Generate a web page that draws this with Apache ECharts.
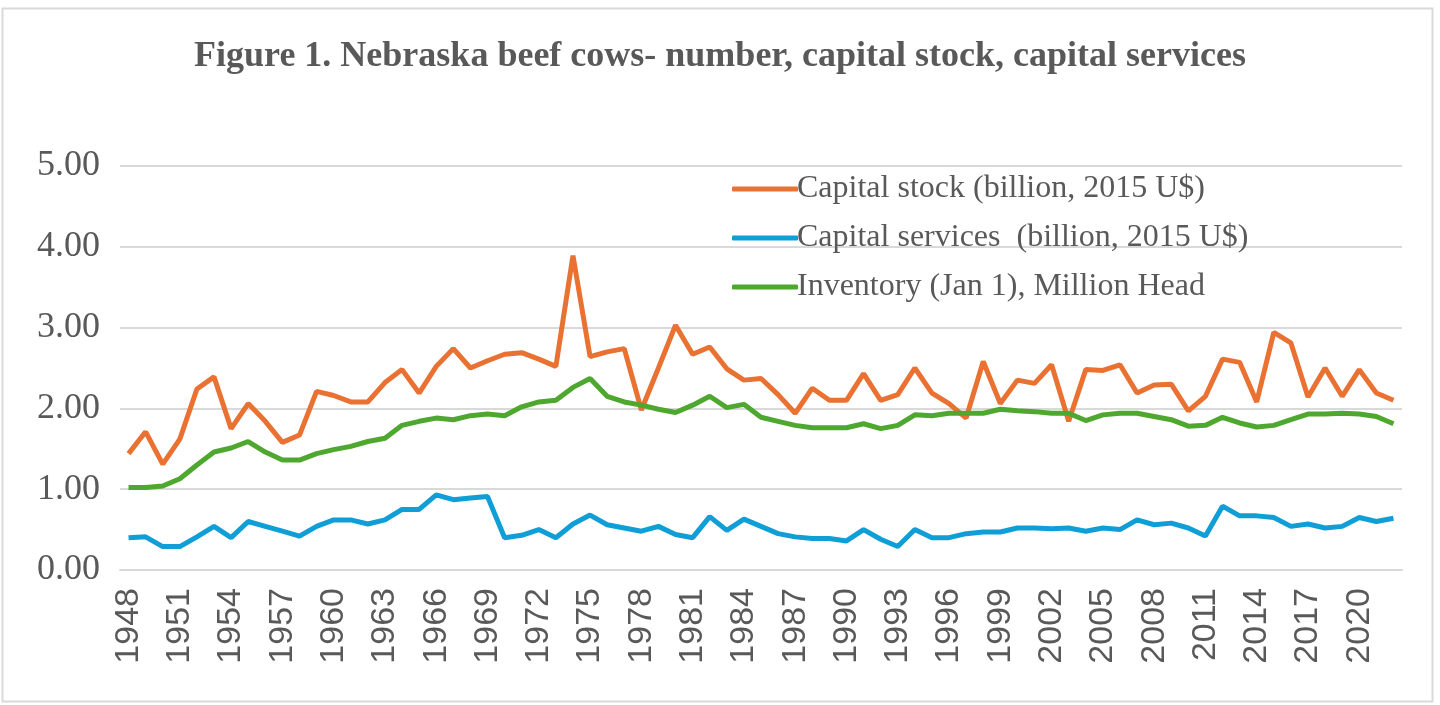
<!DOCTYPE html>
<html>
<head>
<meta charset="utf-8">
<script src="https://cdn.jsdelivr.net/npm/echarts@6/dist/echarts.min.js"></script>
<style>
  html, body { margin: 0; padding: 0; background: #fff; }
  #main { width: 1440px; height: 705px; }
</style>
</head>
<body>
<div id="main"></div>
<script>
// years 1948 - 2022
var years = []
for (var y = 1948; y <= 2022; y++) years.push(String(y))

var capitalStock = [
  1.44, 1.71, 1.31, 1.62, 2.24, 2.39, 1.75, 2.06, 1.84, 1.58,
  1.67, 2.21, 2.16, 2.08, 2.08, 2.32, 2.48, 2.19, 2.52, 2.74,
  2.50, 2.59, 2.67, 2.69, 2.61, 2.52, 3.89, 2.64, 2.70, 2.74,
  1.98, 2.50, 3.03, 2.67, 2.76, 2.49, 2.35, 2.37, 2.17, 1.94,
  2.25, 2.10, 2.10, 2.43, 2.10, 2.17, 2.50, 2.19, 2.06, 1.88,
  2.58, 2.06, 2.35, 2.31, 2.54, 1.84, 2.48, 2.47, 2.54, 2.19,
  2.29, 2.30, 1.97, 2.15, 2.61, 2.57, 2.08, 2.94, 2.81, 2.14,
  2.50, 2.15, 2.48, 2.19, 2.10
]
var capitalServices = [
  0.40, 0.41, 0.29, 0.29, 0.41, 0.54, 0.40, 0.60, 0.54, 0.48,
  0.42, 0.54, 0.62, 0.62, 0.57, 0.62, 0.75, 0.75, 0.93, 0.87,
  0.89, 0.91, 0.40, 0.43, 0.50, 0.40, 0.57, 0.68, 0.56, 0.52,
  0.48, 0.54, 0.44, 0.40, 0.66, 0.49, 0.63, 0.54, 0.45, 0.41,
  0.39, 0.39, 0.36, 0.50, 0.38, 0.29, 0.50, 0.40, 0.40, 0.45,
  0.47, 0.47, 0.52, 0.52, 0.51, 0.52, 0.48, 0.52, 0.50, 0.62,
  0.56, 0.58, 0.52, 0.42, 0.79, 0.67, 0.67, 0.65, 0.54, 0.57,
  0.52, 0.54, 0.65, 0.60, 0.64
]
var inventory = [
  1.02, 1.02, 1.04, 1.13, 1.30, 1.46, 1.51, 1.59, 1.46, 1.36,
  1.36, 1.44, 1.49, 1.53, 1.59, 1.63, 1.79, 1.84, 1.88, 1.86,
  1.91, 1.93, 1.91, 2.02, 2.08, 2.10, 2.26, 2.37, 2.15, 2.08,
  2.04, 1.99, 1.95, 2.04, 2.15, 2.01, 2.05, 1.89, 1.84, 1.79,
  1.76, 1.76, 1.76, 1.81, 1.75, 1.79, 1.92, 1.91, 1.94, 1.94,
  1.94, 1.99, 1.97, 1.96, 1.94, 1.94, 1.85, 1.92, 1.94, 1.94,
  1.90, 1.86, 1.78, 1.79, 1.89, 1.82, 1.77, 1.79, 1.86, 1.93,
  1.93, 1.94, 1.93, 1.90, 1.81
]
var seriesNames = [
  'Capital stock (billion, 2015 U$)',
  'Capital services  (billion, 2015 U$)',
  'Inventory (Jan 1), Million Head'
]
var colors = ['#E97132', '#0F9ED5', '#4EA72E']

var chart = echarts.init(document.getElementById('main'))
var serif = '"Liberation Serif", "Times New Roman", serif'

function lineSeries(name, data) {
  return {
    name: name,
    type: 'line',
    data: data,
    symbol: 'none',
    lineStyle: { width: 5 }
  }
}

chart.setOption({
  animation: false,
  color: colors,
  graphic: [
    {
      type: 'rect',
      shape: { x: 2.5, y: 8.5, width: 1430, height: 693 },
      style: { fill: 'none', stroke: '#D9D9D9', lineWidth: 2 },
      silent: true
    }
  ],
  title: {
    text: 'Figure 1. Nebraska beef cows- number, capital stock, capital services',
    left: 'center',
    top: 34,
    textStyle: {
      fontFamily: serif,
      fontWeight: 'bold',
      fontSize: 36,
      color: '#595959'
    }
  },
  legend: {
    orient: 'vertical',
    left: 727,
    top: 168,
    icon: 'roundRect',
    itemWidth: 66,
    itemHeight: 5,
    itemGap: 17,
    textStyle: {
      fontFamily: serif,
      fontSize: 32,
      color: '#595959',
      padding: [0, 0, 0, -6]
    },
    data: seriesNames
  },
  grid: {
    left: 120,
    right: 38,
    top: 166,
    bottom: 135,
    containLabel: false
  },
  xAxis: {
    type: 'category',
    data: years,
    boundaryGap: true,
    axisLine: { lineStyle: { color: '#D9D9D9', width: 2 } },
    axisTick: { show: false },
    axisLabel: {
      interval: 2,
      rotate: 90,
      margin: 18,
      fontFamily: '"Liberation Sans", Arial, sans-serif',
      fontSize: 34,
      color: '#595959'
    }
  },
  yAxis: {
    type: 'value',
    min: 0,
    max: 5,
    interval: 1,
    axisLine: { show: false },
    axisTick: { show: false },
    splitLine: { lineStyle: { color: '#D9D9D9', width: 2 } },
    axisLabel: {
      margin: 20,
      fontFamily: serif,
      fontSize: 36,
      color: '#595959',
      formatter: function (v) { return v.toFixed(2) }
    }
  },
  series: [
    lineSeries(seriesNames[0], capitalStock),
    lineSeries(seriesNames[1], capitalServices),
    lineSeries(seriesNames[2], inventory)
  ]
})
</script>
</body>
</html>
